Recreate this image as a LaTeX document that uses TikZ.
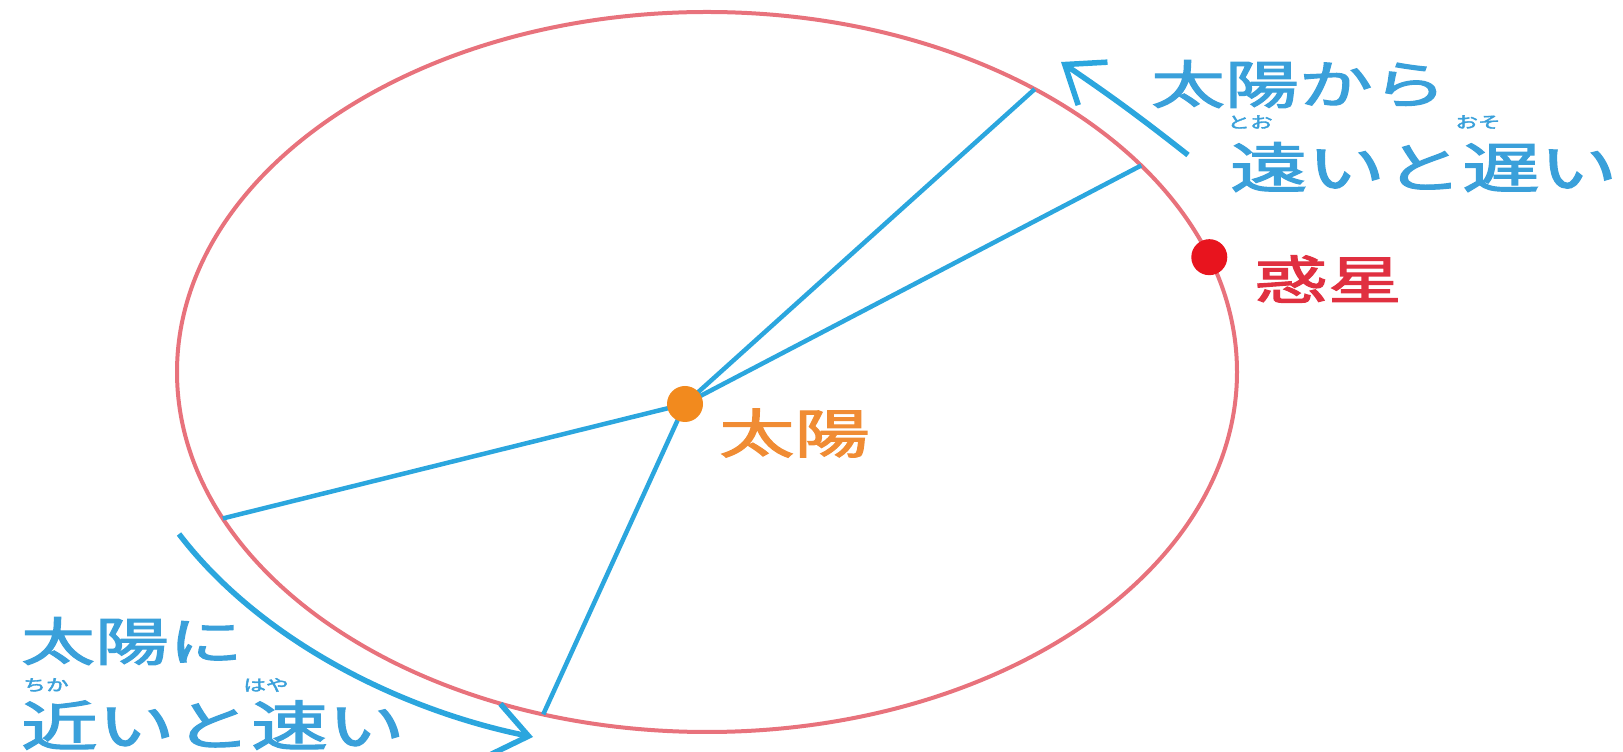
\documentclass[tikz,border=0pt]{standalone}
\usepackage{fontspec}
\newfontfamily\jpfont{Noto Sans CJK JP}[FakeBold=2]
\usetikzlibrary{arrows.meta,calc}
\definecolor{orbitred}{HTML}{E8727C}
\definecolor{rayblue}{HTML}{2BA6DE}
\definecolor{txtblue}{HTML}{3AA0DA}
\definecolor{sunorange}{HTML}{F28A1E}
\definecolor{suntext}{HTML}{F08C34}
\definecolor{planetred}{HTML}{E8141E}
\definecolor{planettext}{HTML}{E03040}
\newcommand{\jtxt}[2]{\scalebox{1.42}[1]{\jpfont\fontsize{#1}{#1}\selectfont #2}}
\tikzset{
  orbit/.style={draw=orbitred, line width=4pt},
  ray/.style={draw=rayblue, line width=4.5pt},
  motion/.style={draw=rayblue, line width=5.5pt, -{Straight Barb[length=34pt,width=52pt,line width=5.5pt]}},
  lbl/.style={inner sep=0pt, anchor=west},
  ruby/.style={inner sep=0pt, text=txtblue}
}
\begin{document}
\begin{tikzpicture}[x=1pt,y=1pt]
\useasboundingbox (0,0) rectangle (1623,752);
\coordinate (C) at (707,380);
\path[orbit] (C) ellipse [x radius=530, y radius=360];
\coordinate (E1) at ($(C)+(51.8:530 and 360)$);
\coordinate (E2) at ($(C)+(35:530 and 360)$);
\coordinate (E3) at ($(C)+(204:530 and 360)$);
\coordinate (E4) at ($(C)+(252:530 and 360)$);
\coordinate (P) at ($(C)+(18.6:530 and 360)$);
\coordinate (S) at (685,348);
\draw[ray] (S) -- (E1);
\draw[ray] (S) -- (E2);
\draw[ray] (S) -- (E3);
\draw[ray] (S) -- (E4);
\fill[sunorange] (S) circle (18);
\fill[planetred] (P) circle (18);
% arrows
\coordinate (A1s) at (1188,597);
\coordinate (A1e) at (1061,690);
\draw[motion] (A1s) to[bend right=2] (A1e);
\coordinate (A2s) at (179,218);
\coordinate (A2e) at (533,15);
\draw[motion] (A2s) .. controls (260,112) and (400,42) .. (A2e);
% labels
\node[lbl, text=suntext] (sunlbl) at (719,319) {\jtxt{53}{太陽}};
\node[lbl, text=planettext] (plalbl) at (1254,473) {\jtxt{52}{惑星}};
\node[lbl, text=txtblue] (far1) at (1151,668) {\jtxt{52}{太陽から}};
\node[lbl, text=txtblue] (far2) at (1230,585) {\jtxt{54.5}{遠いと遅い}};
\node[ruby] (rfar1) at (1250,630) {\jtxt{16}{とお}};
\node[ruby] (rfar2) at (1478,630) {\jtxt{16}{おそ}};
\node[lbl, text=txtblue] (near1) at (21,111) {\jtxt{52}{太陽に}};
\node[lbl, text=txtblue] (near2) at (21,27) {\jtxt{54}{近いと速い}};
\node[ruby] (rnear1) at (46,67) {\jtxt{16}{ちか}};
\node[ruby] (rnear2) at (266,67) {\jtxt{16}{はや}};
\end{tikzpicture}
\end{document}
